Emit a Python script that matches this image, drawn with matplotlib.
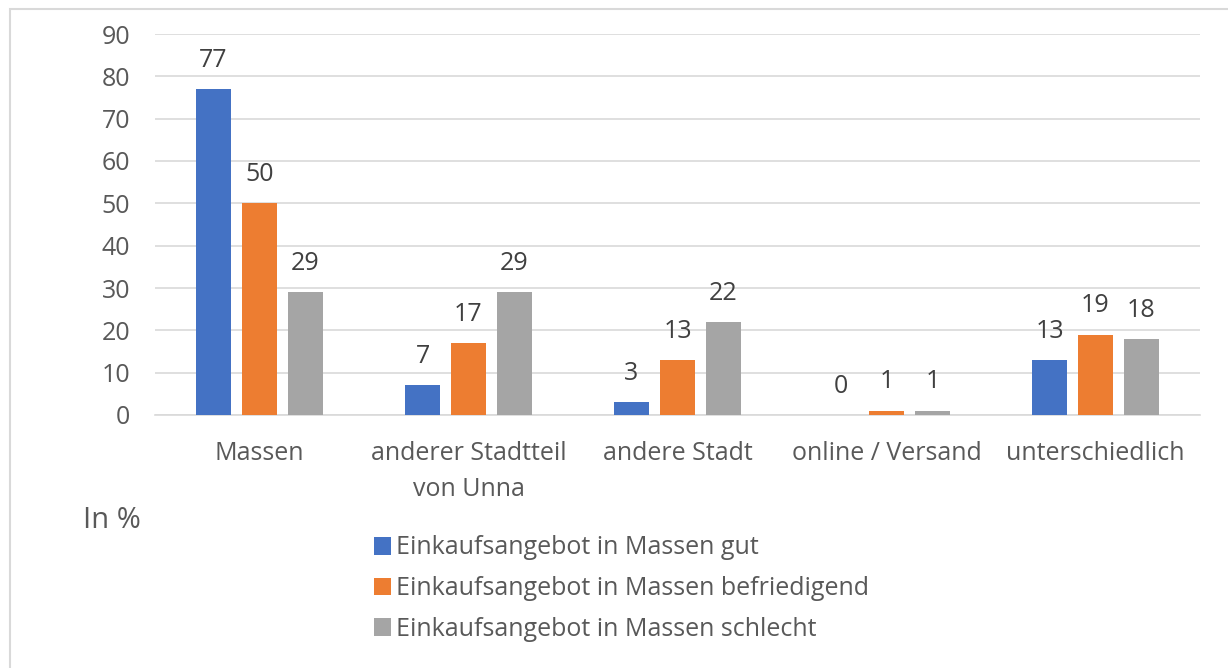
import numpy as np
import matplotlib.pyplot as plt
from matplotlib.patches import Rectangle

# Daten
kategorien = ['Massen', 'anderer Stadtteil\nvon Unna', 'andere Stadt', 'online / Versand', 'unterschiedlich']
gut = [77, 7, 3, 0, 13]
befriedigend = [50, 17, 13, 1, 19]
schlecht = [29, 29, 22, 1, 18]
serien = ['Einkaufsangebot in Massen gut',
          'Einkaufsangebot in Massen befriedigend',
          'Einkaufsangebot in Massen schlecht']
farben = ['#4472c4', '#ed7d31', '#a5a5a5']
text_farbe = '#595959'

plt.rcParams['font.family'] = ['Open Sans', 'DejaVu Sans']

fig = plt.figure(figsize=(12.28, 6.68), dpi=100)
W, H = 1228, 668
ax = fig.add_axes([155 / W, 1 - 415 / H, (1200 - 155) / W, (415 - 34) / H])

# Rahmen um das Diagramm
fig.patches.append(Rectangle((10 / W, -0.1), 1.2, 1 - 9 / H + 0.1, transform=fig.transFigure,
                             fill=False, edgecolor='#d9d9d9', linewidth=1.5))

x = np.arange(len(kategorien))
breite = 0.172
schritt = 0.22
for i, (werte, name, farbe) in enumerate(zip([gut, befriedigend, schlecht], serien, farben)):
    pos = x + (i - 1) * schritt
    ax.bar(pos, werte, width=breite, color=farbe, label=name, zorder=3)
    for p, v in zip(pos, werte):
        ax.text(p, v + 6.8, str(v), ha='center', va='center', fontsize=18, color='#404040')

ax.set_xlim(-0.5, len(kategorien) - 0.5)
ax.set_ylim(0, 90)
ax.set_yticks(range(0, 91, 10))
ax.grid(axis='y', color='#d9d9d9', linewidth=1.2, zorder=0)
for s in ['top', 'right', 'left']:
    ax.spines[s].set_visible(False)
ax.spines['bottom'].set_color('#d9d9d9')
ax.spines['bottom'].set_linewidth(1.2)
ax.tick_params(axis='both', length=0, labelsize=18, colors=text_farbe)
ax.tick_params(axis='y', pad=18)
ax.tick_params(axis='x', pad=19)
ax.set_xticks(x)
ax.set_xticklabels(kategorien, linespacing=1.55)

fig.text(83 / W, 1 - 520 / H, 'In %', fontsize=21, color=text_farbe, va='center')

leg = fig.legend(loc='upper left', bbox_to_anchor=(351 / W, 1 - 513 / H), frameon=False,
                 fontsize=18, labelcolor=text_farbe, handlelength=0.7, handleheight=0.7,
                 handletextpad=0.2, labelspacing=0.62)

plt.savefig('out.png', dpi=100)
